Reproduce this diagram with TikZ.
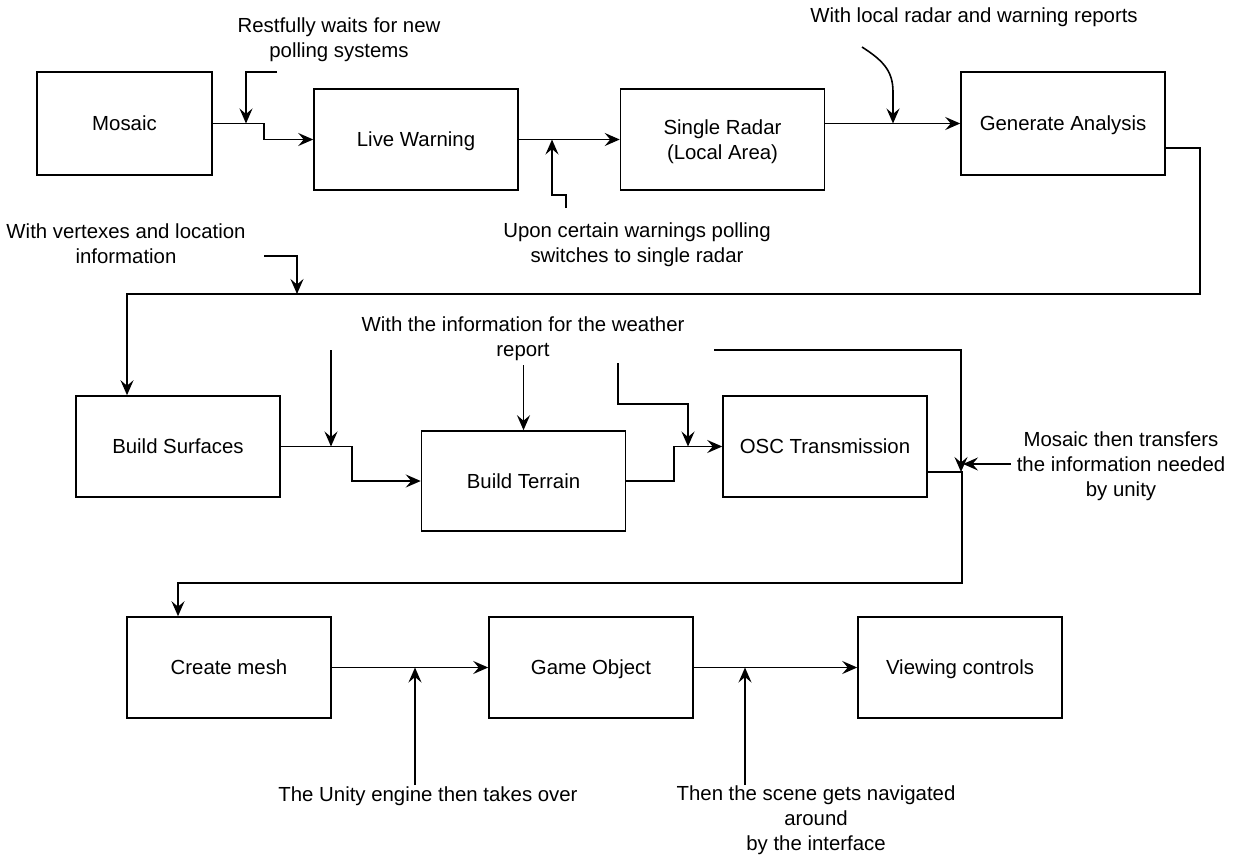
\documentclass[tikz,border=0pt]{standalone}
\usepackage{fontspec}
\setmainfont{Liberation Sans}
\usetikzlibrary{arrows.meta}
\tikzset{blk/.style={draw,line width=0.9pt,minimum width=4.08cm,minimum height=2.02cm,inner sep=0pt,text depth=0pt},
  note/.style={align=center,inner sep=0pt},
  arr/.style={line width=0.9pt,-{Stealth[length=3mm,width=2.6mm,inset=1.1mm]}}}

\begin{document}
\begin{tikzpicture}[x=0.02cm,y=-0.02cm,font=\fontsize{11.6}{14.2}\selectfont]
        \useasboundingbox (0,0) rectangle (1239,858);
        \node[blk,minimum width=3.5cm,minimum height=2.06cm] (mosaic) at (124.5,123.5) {Mosaic};
        \node[blk] (live) at (416,139.5) {Live Warning};
        \node[blk,align=center] (radar) at (722.5,139.5) {Single Radar\\(Local Area)};
        \node[blk,minimum height=2.06cm] (genan) at (1063,123.5) {Generate Analysis};
        \node[blk] (surf) at (178,446.5) {Build Surfaces};
        \node[blk,minimum height=2cm] (terr) at (523.5,481) {Build Terrain};
        \node[blk] (osc) at (825,446.5) {OSC Transmission};
        \node[blk] (mesh) at (229,667.5) {Create mesh};
        \node[blk] (game) at (591,667.5) {Game Object};
        \node[blk] (view) at (960,667.5) {Viewing controls};
        \node[note] (n1) at (339,40) {Restfully waits for new\\polling systems};
        \node[note] (n2) at (974,17) {With local radar and warning reports};
        \node[note] (n3) at (637,245) {Upon certain warnings polling\\switches to single radar};
        \node[note] (n4) at (126,244) {With vertexes and location\\information};
        \node[note] (n5) at (523,339) {With the information for the weather\\report};
        \node[note] (n6) at (1121,466) {Mosaic then transfers\\the information needed\\by unity};
        \node[note] (n7) at (428,796) {The Unity engine then takes over};
        \node[note] (n8) at (816,820) {Then the scene gets navigated\\around\\by the interface};
        \coordinate (c1) at (277,72); \coordinate (j1) at (246,123.5);
        \coordinate (c2) at (566,208); \coordinate (j2) at (552,139.5);
        \coordinate (c3) at (862,47); \coordinate (j3) at (893,123.5);
        \coordinate (c4) at (264,256); \coordinate (j4) at (297,294);
        \coordinate (c5) at (331,350); \coordinate (j5) at (331,446.5);
        \coordinate (c6) at (523.5,365);
        \coordinate (c7) at (618,363); \coordinate (j7) at (688,446.5);
        \coordinate (c8) at (714,350); \coordinate (j8) at (961,472);
        \coordinate (c9) at (1011,464); \coordinate (j9) at (963,464);
        \coordinate (c10) at (415,785); \coordinate (j10) at (415,667.5);
        \coordinate (c11) at (745,785); \coordinate (j11) at (745,667.5);
        \draw[arr] (mosaic.east) -- ++(51,0) |- (live.west); \draw[arr] (live.east) -- (radar.west); \draw[arr] (radar.east |- genan.west) -- (genan.west);
        \draw[arr] (genan.east) ++(0,24.5) -- ++(34,0) -- ++(0,146) -| ([xshift=-1.02cm]surf.north);
        \draw[arr] (surf.east) -- ++(71,0) |- (terr.west); \draw[arr] (terr.east) -- ++(48,0) |- (osc.west);
        \draw[arr] (osc.east) ++(0,25.5) -- ++(34,0) -- ++(0,111) -| ([xshift=-1.02cm]mesh.north);
        \draw[arr] (mesh.east) -- (game.west); \draw[arr] (game.east) -- (view.west);
        \draw[arr] (c1) -| (j1); \draw[arr] (c2) -- ++(0,-13) -| (j2);
        \draw[arr] (c3) .. controls (882,60) and (893,70) .. (893,92) -- (j3);
        \draw[arr] (c4) -| (j4); \draw[arr] (c5) -- (j5); \draw[arr] (c6) -- (terr.north);
        \draw[arr] (c7) |- (j7 |- 0,404) -- (j7); \draw[arr] (c8) -| (j8); \draw[arr] (c9) -- (j9);
        \draw[arr] (c10) -- (j10); \draw[arr] (c11) -- (j11);
    \end{tikzpicture}
\end{document}
